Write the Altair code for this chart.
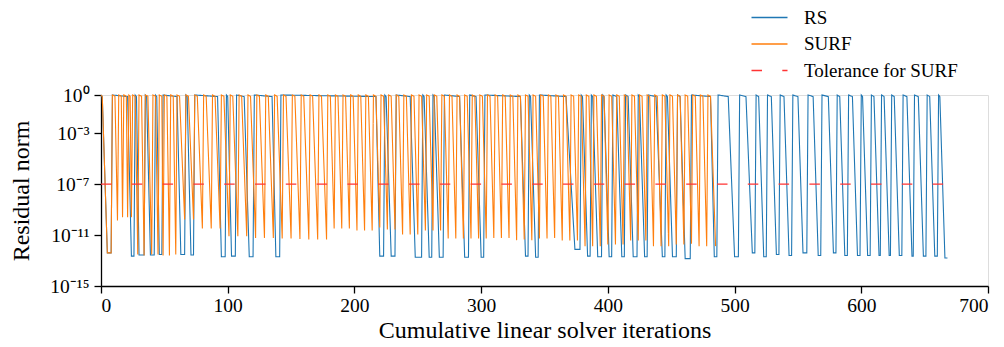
import altair as alt
import pandas as pd

# ---------------- values ----------------
series_names = ["RS", "SURF", "Tolerance for SURF"]
series_colors = ["#1f77b4", "#ff7f0e", "#ff3333"]

# first nonlinear cycle is identical for both methods
first_cycle_iter = [0, 1, 5, 8]
first_cycle_res = [1.0, 0.75, 4e-13, 4e-13]

# RS: iteration where each cycle restarts at ~1, where the top plateau ends,
# where the minimum is reached, and the minimum value
rs_start = [9, 27, 35, 43, 49, 67, 74, 99, 107, 121, 142, 224, 233, 254, 262, 271,
            291, 303, 338, 346, 379, 387, 396, 404, 414, 424, 432, 446, 455, 466,
            487, 504, 517, 526, 536, 546, 558, 569, 581, 590, 600, 608, 616, 624,
            633, 642, 652, 661]
rs_drop = [21, 28, 36, 44, 60, 68, 92, 100, 113, 135, 217, 225, 244, 255, 263, 283,
           296, 331, 339, 367, 380, 388, 397, 407, 416, 425, 438, 447, 457, 481,
           495, 509, 519, 529, 539, 550, 562, 574, 583, 593, 601, 610, 618, 626,
           636, 645, 654, 662]
rs_bottom = [24, 30, 39, 46, 63, 71, 95, 103, 117, 138, 220, 229, 248, 259, 267, 287,
             300, 335, 343, 374, 384, 392, 401, 411, 420, 429, 443, 451, 461, 484,
             500, 514, 523, 533, 543, 554, 566, 578, 587, 597, 605, 614, 622, 630,
             640, 649, 658, 666]
rs_min = [2.2e-13, 2.7e-13, 2.7e-13, 3e-13, 3e-13, 2.7e-13, 2e-13, 2.2e-13, 2e-13, 2e-13,
          2.2e-13, 2.2e-13, 1.8e-13, 1.8e-13, 1.8e-13, 1.8e-13, 1.8e-13, 2.2e-13, 1.8e-13,
          7.5e-13, 2.2e-13, 2e-13, 2e-13, 2e-13, 2e-13, 2e-13, 2e-13, 2e-13, 1.4e-13,
          2e-13, 2e-13, 4e-13, 2e-13, 3e-13, 2.5e-13, 4e-13, 2.5e-13, 4e-13, 2.5e-13,
          2.5e-13, 2.5e-13, 2.5e-13, 2.5e-13, 2.5e-13, 2.2e-13, 2.2e-13, 2.2e-13, 1.6e-13]
rs_last_iter = 668

# SURF: iteration where each cycle restarts at ~1 and the minimum reached
# just before the next restart
surf_start = [9, 14, 18, 22, 25, 30, 35, 41, 46, 50, 55, 60, 67, 74, 81, 88, 95, 102,
              109, 116, 123, 130, 137, 144, 151, 158, 165, 172, 179, 185, 191, 197,
              203, 209, 215, 221, 227, 233, 239, 245, 251, 257, 263, 269, 275, 281,
              287, 293, 299, 305, 311, 317, 323, 329, 335, 341, 347, 353, 359, 365,
              371, 377, 383, 389, 395, 401, 407, 413, 419, 425, 431, 437, 443, 449,
              455, 461, 467, 473, 479]
surf_min = [1.4e-10, 2.5e-10, 2.5e-10, 2.5e-10, 3e-13, 2.5e-13, 3e-13, 3e-13, 2.5e-13,
            2.5e-13, 3e-13, 1.7e-10, 1.7e-10, 3.3e-11, 3.3e-11, 3.3e-11, 8e-12, 8e-12,
            8e-12, 6e-12, 6e-12, 6e-12, 5.4e-12, 5.4e-12, 5e-12, 4.5e-12, 4.5e-12,
            4.5e-12, 3.3e-11, 3.3e-11, 3.3e-11, 2.3e-11, 2.3e-11, 2.3e-11, 4e-11,
            2.7e-11, 2.7e-11, 1.1e-11, 1.1e-11, 1.1e-11, 2.3e-11, 2.3e-11, 2.3e-11,
            5.4e-12, 5.4e-12, 5.4e-12, 5.4e-12, 5.4e-12, 5.4e-12, 6e-12, 6e-12, 6e-12,
            4e-12, 4.5e-12, 4e-12, 5.4e-12, 5.4e-12, 6e-12, 3.8e-12, 3.8e-12, 3.8e-12,
            1.35e-12, 1.35e-12, 1.35e-12, 1.8e-12, 1.8e-12, 1.8e-12, 3.8e-12, 3.8e-12,
            3.8e-12, 1.35e-12, 1.35e-12, 1.35e-12, 1.8e-12, 1.8e-12, 2.1e-12, 1.35e-12,
            1.35e-12, 1.35e-12]
surf_last_iter = 485

tolerance_value = 1e-7
tolerance_iters = [0, 668]

x_tick_values = [0, 100, 200, 300, 400, 500, 600, 700]
y_tick_values = [1.0, 1e-3, 1e-7, 1e-11, 1e-15]
y_tick_labels = ["10⁰", "10⁻³", "10⁻⁷", "10⁻¹¹", "10⁻¹⁵"]

assert len(rs_start) == len(rs_drop) == len(rs_bottom) == len(rs_min)
assert len(surf_start) == len(surf_min)

# ---------------- build the table ----------------
rows = []
for it, r in zip(first_cycle_iter, first_cycle_res):
    rows.append({"series": "RS", "iter": it, "res": r})
    rows.append({"series": "SURF", "iter": it, "res": r})

for i, s in enumerate(rs_start):
    e = rs_start[i + 1] if i + 1 < len(rs_start) else rs_last_iter + 1
    pts = [(s, 1.0), (rs_drop[i], 0.75), (rs_bottom[i], rs_min[i])]
    if e - 1 > rs_bottom[i]:
        pts.append((e - 1, rs_min[i]))
    for it, r in pts:
        rows.append({"series": "RS", "iter": it, "res": r})

for i, s in enumerate(surf_start):
    e = surf_start[i + 1] if i + 1 < len(surf_start) else surf_last_iter + 1
    p = min(s + 2, e - 2)
    pts = [(s, 1.0)]
    if p > s:
        pts.append((p, 0.8))
    pts.append((e - 1, surf_min[i]))
    for it, r in pts:
        rows.append({"series": "SURF", "iter": it, "res": r})

for it in tolerance_iters:
    rows.append({"series": "Tolerance for SURF", "iter": it, "res": tolerance_value})

df = pd.DataFrame(rows)

# ---------------- chart ----------------
FONT = "Liberation Serif"

label_expr = ""
for v, lab in zip(y_tick_values[:-1], y_tick_labels[:-1]):
    label_expr += f"datum.value > {v / 10} ? '{lab}' : "
label_expr += f"'{y_tick_labels[-1]}'"

# wide horizontal stroke symbol: 36 px long while the layout size stays 12 px
legend = alt.Legend(
    orient="none", legendX=659, legendY=-87, title=None,
    symbolType="M-3,0H3", symbolSize=144, symbolStrokeWidth=1.3,
    labelFont=FONT, labelFontSize=19, labelColor="black", labelOffset=25,
    rowPadding=6.5, padding=0, symbolOpacity=1,
)

color = alt.Color("series:N",
                  scale=alt.Scale(domain=series_names, range=series_colors),
                  legend=legend)
dash = alt.StrokeDash("series:N",
                      scale=alt.Scale(domain=series_names,
                                      range=[[1, 0], [1, 0], [10.5, 20.3]]),
                      legend=legend)

x = alt.X("iter:Q",
          scale=alt.Scale(domain=[0, 700], nice=False, zero=False),
          axis=alt.Axis(values=x_tick_values, title="Cumulative linear solver iterations",
                        titleY=51, titleBaseline="alphabetic", labelPadding=3,
                        format="d"))
y = alt.Y("res:Q",
          scale=alt.Scale(type="log", domain=[1e-15, 1], nice=False),
          axis=alt.Axis(values=y_tick_values, labelExpr=label_expr, title="Residual norm",
                        titleX=-73, titleBaseline="alphabetic", labelPadding=5))


def layer(name):
    return (alt.Chart(df)
            .transform_filter(alt.datum.series == name)
            .mark_line(strokeWidth=1.1, interpolate="linear")
            .encode(x=x, y=y, color=color, strokeDash=dash, order="iter:Q"))


chart = (alt.layer(layer("RS"), layer("SURF"), layer("Tolerance for SURF"))
         .properties(width=887, height=191,
                     autosize=alt.AutoSizeParams(type="none"),
                     padding={"left": 93, "top": 87, "right": 8, "bottom": 56})
         .configure_view(stroke=None)
         .configure(background="white")
         .configure_axis(grid=False, domainColor="black", domainWidth=1.3,
                         tickColor="black", tickWidth=1.3, tickSize=7,
                         labelFont=FONT, labelFontSize=19.5, labelColor="black",
                         titleFont=FONT, titleFontSize=24, titleFontWeight="normal",
                         titleColor="black"))

chart.save("out.html", embed_options={"renderer": "svg", "actions": False})
